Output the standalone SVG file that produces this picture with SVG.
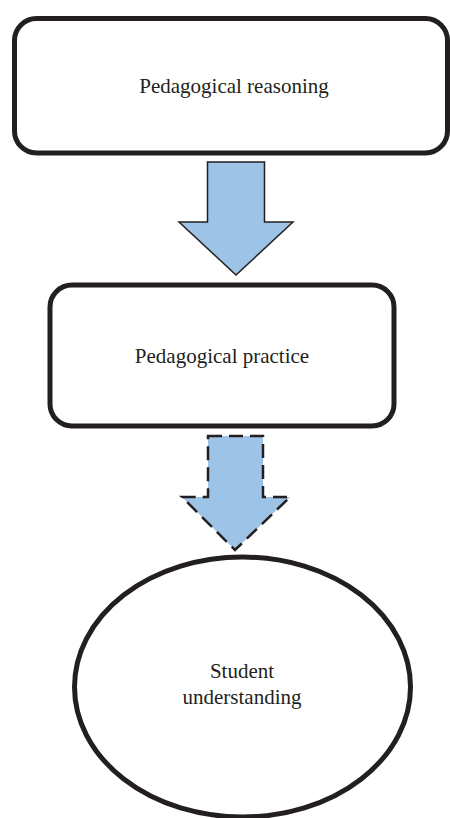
<svg xmlns="http://www.w3.org/2000/svg" width="450" height="818" viewBox="0 0 450 818">
<style>
.node{fill:#fff;stroke:#231f20;stroke-width:5}
.lbl{font-family:"Liberation Serif","Times New Roman",serif;font-size:21px;fill:#231f20;text-anchor:middle}
.arr{fill:#9dc3e6;stroke:#231f20;stroke-width:1.5;stroke-linejoin:miter}
.dash{stroke-width:2.5;stroke-dasharray:14 7}
</style>
<rect width="450" height="818" fill="#fff"/>
<g id="connectors">
<path class="arr" d="M207.5,162 H264.5 V222 H293 L236,275 L179,222 H207.5 Z"/>
<path class="arr dash" d="M208,436 H263 V497 H290 L235,550 L182,497 H208 Z"/>
</g>
<g id="reasoning">
<rect class="node" x="14.5" y="18.5" width="433" height="134.5" rx="22"/>
<text class="lbl" x="234" y="93">Pedagogical reasoning</text>
</g>
<g id="practice">
<rect class="node" x="50" y="285" width="344" height="141" rx="22"/>
<text class="lbl" x="222" y="363">Pedagogical practice</text>
</g>
<g id="understanding">
<ellipse class="node" cx="242.5" cy="687" rx="168" ry="130"/>
<text class="lbl" x="242" y="678">Student</text>
<text class="lbl" x="242" y="704">understanding</text>
</g>
</svg>
